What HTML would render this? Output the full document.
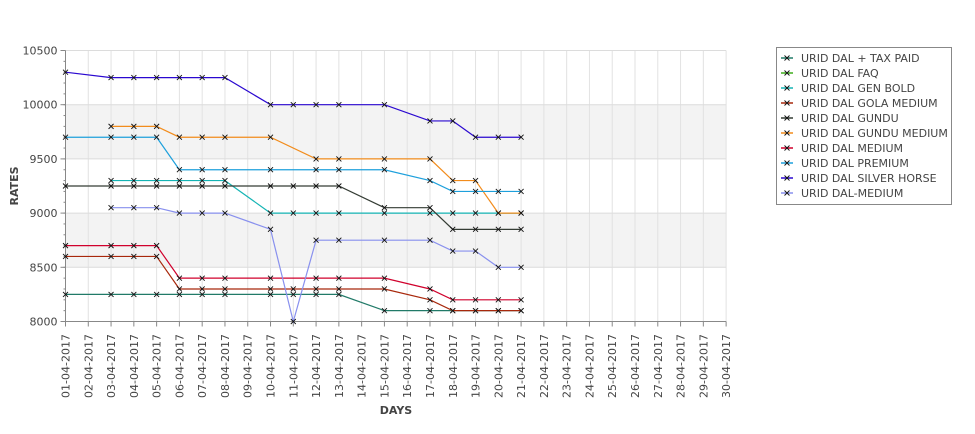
<!DOCTYPE html>
<html><head><meta charset="utf-8"><style>
body{margin:0;background:#fff;width:975px;height:429px;overflow:hidden}
svg text{font-family:"DejaVu Sans","Liberation Sans",sans-serif;fill:#444}
</style></head><body>
<svg id="chart" width="975" height="429" xmlns="http://www.w3.org/2000/svg">
<g id="grid"></g>
<g id="axes"></g>
<g id="series"></g>
<text transform="translate(18,186) rotate(-90)" text-anchor="middle" font-size="11" font-weight="bold">RATES</text>
<text x="396" y="414" text-anchor="middle" font-size="11" font-weight="bold">DAYS</text>
<g>
<rect x="776.5" y="47.5" width="175" height="157" fill="#fff" stroke="#888"/>
<g id="legend"></g>
</g>
</svg>
<script>
const categories = ["01-04-2017","02-04-2017","03-04-2017","04-04-2017","05-04-2017","06-04-2017","07-04-2017","08-04-2017","09-04-2017","10-04-2017","11-04-2017","12-04-2017","13-04-2017","14-04-2017","15-04-2017","16-04-2017","17-04-2017","18-04-2017","19-04-2017","20-04-2017","21-04-2017","22-04-2017","23-04-2017","24-04-2017","25-04-2017","26-04-2017","27-04-2017","28-04-2017","29-04-2017","30-04-2017"];
const yTicks = [8000,8500,9000,9500,10000,10500];
const seriesNames = ["URID DAL + TAX PAID","URID DAL FAQ","URID DAL GEN BOLD","URID DAL GOLA MEDIUM","URID DAL GUNDU","URID DAL GUNDU MEDIUM","URID DAL MEDIUM","URID DAL PREMIUM","URID DAL SILVER HORSE","URID DAL-MEDIUM"];
const seriesColors = ["#217a68","#3fae1c","#14b4b4","#a8280c","#343c34","#f28c1c","#d0002c","#1ea0dc","#2a08d0","#8890ee"];
const taxPaid   = {1:8250,3:8250,4:8250,5:8250,6:8250,7:8250,8:8250,10:8250,11:8250,12:8250,13:8250,15:8100,17:8100,18:8100,19:8100,20:8100,21:8100};
const faq       = {};
const genBold   = {3:9300,4:9300,5:9300,6:9300,7:9300,8:9300,10:9000,11:9000,12:9000,13:9000,15:9000,17:9000,18:9000,19:9000,20:9000,21:9000};
const golaMedium= {1:8600,3:8600,4:8600,5:8600,6:8300,7:8300,8:8300,10:8300,11:8300,12:8300,13:8300,15:8300,17:8200,18:8100,19:8100,20:8100,21:8100};
const gundu     = {1:9250,3:9250,4:9250,5:9250,6:9250,7:9250,8:9250,10:9250,11:9250,12:9250,13:9250,15:9050,17:9050,18:8850,19:8850,20:8850,21:8850};
const gunduMedium={3:9800,4:9800,5:9800,6:9700,7:9700,8:9700,10:9700,12:9500,13:9500,15:9500,17:9500,18:9300,19:9300,20:9000,21:9000};
const medium    = {1:8700,3:8700,4:8700,5:8700,6:8400,7:8400,8:8400,10:8400,12:8400,13:8400,15:8400,17:8300,18:8200,19:8200,20:8200,21:8200};
const premium   = {1:9700,3:9700,4:9700,5:9700,6:9400,7:9400,8:9400,10:9400,12:9400,13:9400,15:9400,17:9300,18:9200,19:9200,20:9200,21:9200};
const silverHorse={1:10300,3:10250,4:10250,5:10250,6:10250,7:10250,8:10250,10:10000,11:10000,12:10000,13:10000,15:10000,17:9850,18:9850,19:9700,20:9700,21:9700};
const dalMedium = {3:9050,4:9050,5:9050,6:9000,7:9000,8:9000,10:8850,11:8000,12:8750,13:8750,15:8750,17:8750,18:8650,19:8650,20:8500,21:8500};
const seriesData = [taxPaid,faq,genBold,golaMedium,gundu,gunduMedium,medium,premium,silverHorse,dalMedium];

const NS="http://www.w3.org/2000/svg";
const X0=65.5,DX=22.78,Y0=321.5,YTOP=50.5,YMIN=8000,YMAX=10500;
const xs=d=>X0+(d-1)*DX;
const ys=v=>Y0-(v-YMIN)/(YMAX-YMIN)*(Y0-YTOP);
function mk(tag,attrs,parent){const e=document.createElementNS(NS,tag);for(const k in attrs)e.setAttribute(k,attrs[k]);parent.appendChild(e);return e;}
const grid=document.getElementById('grid'),axes=document.getElementById('axes'),ser=document.getElementById('series'),leg=document.getElementById('legend');
const xEnd=xs(categories.length);
for(let i=0;i<yTicks.length-1;i++){ if(i%2===1){const r=mk('rect',{x:X0,y:ys(yTicks[i+1]),width:xEnd-X0,height:ys(yTicks[i])-ys(yTicks[i+1]),fill:'#f3f3f3'},grid);

}}
categories.forEach((c,i)=>{const x=xs(i+1);
const l=mk('line',{x1:x,x2:x,y1:YTOP,y2:Y0,stroke:'#e2e2e2'},grid);


mk('line',{x1:x,x2:x,y1:Y0,y2:Y0+5,stroke:'#888'},axes);
const t=mk('text',{transform:`translate(${x+4},334) rotate(-90)`,'text-anchor':'end','font-size':'11'},axes);


t.textContent=c;});
yTicks.forEach(v=>{const y=ys(v);
const l=mk('line',{x1:X0,x2:xEnd,y1:y,y2:y,stroke:'#dcdcdc'},grid);


mk('line',{x1:X0-5,x2:X0,y1:y,y2:y,stroke:'#888'},axes);
const t=mk('text',{x:X0-8,y:y+4,'text-anchor':'end','font-size':'11'},axes);


t.textContent=v;});
for(let v=YMIN;v<=YMAX;v+=100){mk('line',{x1:X0-2,x2:X0,y1:ys(v),y2:ys(v),stroke:'#888'},axes);}
mk('line',{x1:X0,x2:X0,y1:YTOP,y2:Y0,stroke:'#888'},axes);
mk('line',{x1:X0,x2:xEnd,y1:Y0,y2:Y0,stroke:'#888'},axes);
function cross(x,y,p){mk('path',{d:`M${x-2.5},${y-2.5}L${x+2.5},${y+2.5}M${x-2.5},${y+2.5}L${x+2.5},${y-2.5}`,stroke:'#111','stroke-width':0.9},p);}
seriesData.forEach((data,si)=>{
const g=mk('g',{},ser);


const days=Object.keys(data).map(Number).sort((a,b)=>a-b);
if(days.length){const pts=days.map(d=>xs(d)+','+ys(data[d])).join(' ');
const pl=mk('polyline',{points:pts,fill:'none',stroke:seriesColors[si],'stroke-width':1.2},g);


days.forEach(d=>cross(xs(d),ys(data[d]),g));}
const ly=58+si*15;
const lg=mk('g',{},leg);


mk('line',{x1:781,x2:793,y1:ly,y2:ly,stroke:seriesColors[si],'stroke-width':1.5},lg);
cross(787,ly,lg);
const t=mk('text',{x:801,y:ly+4,'font-size':'11',fill:'#222'},lg);
t.textContent=seriesNames[si];
});
</script>
</body></html>
